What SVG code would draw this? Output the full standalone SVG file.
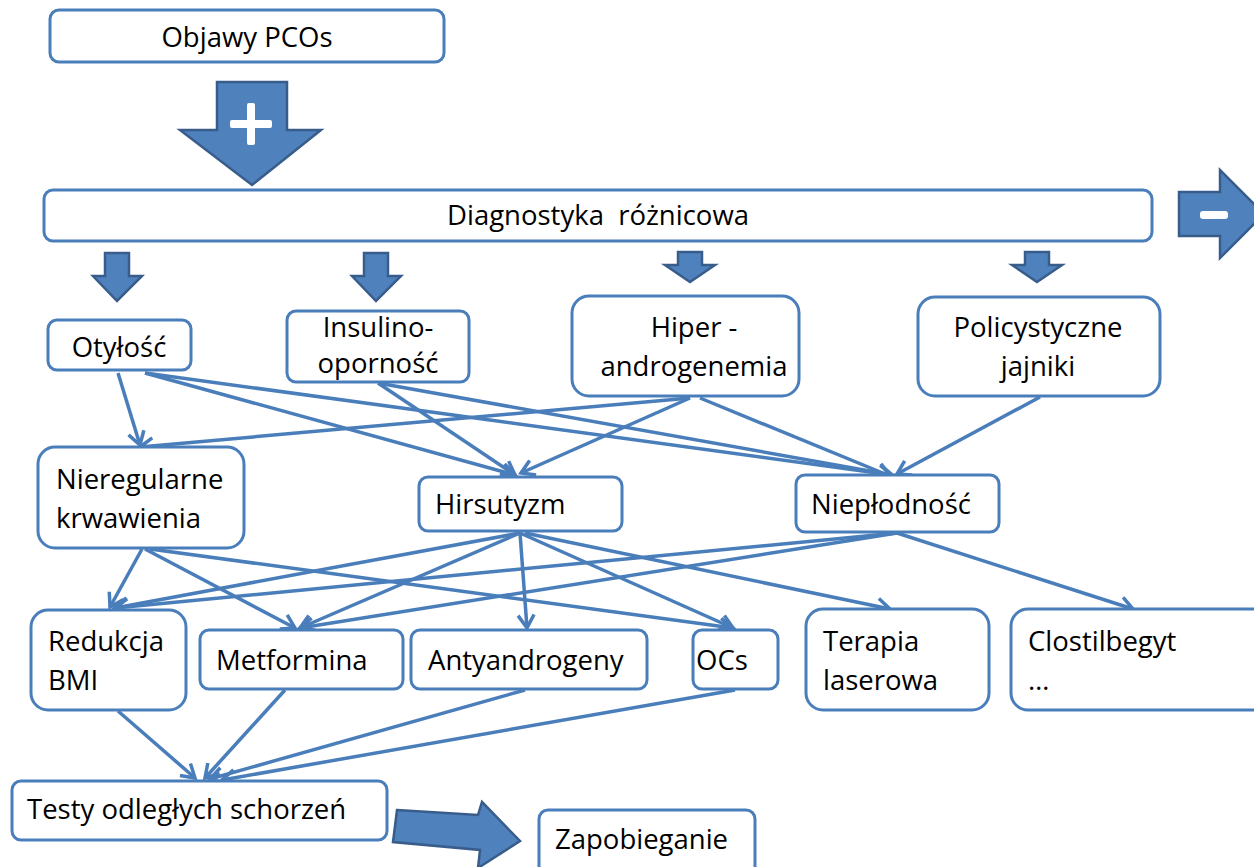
<svg xmlns="http://www.w3.org/2000/svg" width="1254" height="867" viewBox="0 0 1254 867">
  <defs>
    <style>
      .box { fill: #ffffff; stroke: #4a7ebb; stroke-width: 3; }
      .lbl { font-family: "Open Sans", "Liberation Sans", sans-serif; font-size: 27.5px; fill: #000000; }
      .mid { text-anchor: middle; }
      .fat { fill: #4f81bd; stroke: #385d8a; stroke-width: 2.5; stroke-linejoin: miter; }
      .sign { fill: #ffffff; }
      .edge { fill: none; stroke: #4a7ebb; stroke-width: 3.5; marker-end: url(#chev); }
    </style>
    <marker id="chev" markerUnits="userSpaceOnUse" markerWidth="30" markerHeight="30" viewBox="-15 -15 30 30" refX="0" refY="0" orient="auto" overflow="visible">
      <path d="M-13,-8 L0,0 L-13,8" fill="none" stroke="#4a7ebb" stroke-width="3.5" stroke-linejoin="miter"/>
    </marker>
  </defs>

  <rect width="1254" height="867" fill="#ffffff"/>

  <!-- block arrows -->
  <g id="arrow-plus">
    <polygon class="fat" points="217,82 287,82 287,130 321,130 252,185 180,130 217,130"/>
    <rect class="sign" x="247" y="103" width="8" height="42" rx="2"/>
    <rect class="sign" x="230" y="120" width="42" height="8" rx="2"/>
  </g>
  <g id="arrow-minus">
    <polygon class="fat" points="1179,192 1220,192 1220,170 1264,214 1220,258 1220,236 1179,236"/>
    <rect class="sign" x="1200" y="211" width="28" height="8" rx="3"/>
  </g>
  <g id="arrows-down">
    <polygon class="fat" points="105,253 129,253 129,276 142,276 117,301 93,276 105,276"/>
    <polygon class="fat" points="364,253 388,253 388,276 401,276 376,301 352,276 364,276"/>
    <polygon class="fat" points="678,252 702,252 702,265 715,265 690,282 665,265 678,265"/>
    <polygon class="fat" points="1025,252 1049,252 1049,265 1062,265 1037,282 1012,265 1025,265"/>
  </g>
  <g id="arrow-prevent">
    <polygon class="fat" points="397,810 478,815 482,802 520,841 478,868 480,850 393,842"/>
  </g>

  <!-- connectors -->
  <g id="connectors">
    <line class="edge" x1="118" y1="373" x2="140" y2="445"/>
    <line class="edge" x1="145" y1="373" x2="515" y2="475"/>
    <line class="edge" x1="145" y1="373" x2="892" y2="475"/>
    <line class="edge" x1="378" y1="383" x2="515" y2="475"/>
    <line class="edge" x1="378" y1="383" x2="892" y2="475"/>
    <line class="edge" x1="690" y1="398" x2="140" y2="447"/>
    <line class="edge" x1="690" y1="398" x2="521" y2="473"/>
    <line class="edge" x1="700" y1="398" x2="890" y2="476"/>
    <line class="edge" x1="1040" y1="397" x2="897" y2="474"/>

    <line class="edge" x1="142" y1="549" x2="110" y2="607"/>
    <line class="edge" x1="145" y1="549" x2="295" y2="628"/>
    <line class="edge" x1="150" y1="549" x2="733" y2="628"/>
    <line class="edge" x1="897" y1="533" x2="115" y2="608"/>
    <line class="edge" x1="897" y1="533" x2="300" y2="628"/>
    <line class="edge" x1="897" y1="533" x2="1133" y2="609"/>
    <line class="edge" x1="520" y1="533" x2="115" y2="608"/>
    <line class="edge" x1="520" y1="533" x2="300" y2="628"/>
    <line class="edge" x1="520" y1="533" x2="527" y2="628"/>
    <line class="edge" x1="520" y1="533" x2="733" y2="628"/>
    <line class="edge" x1="525" y1="533" x2="890" y2="609"/>

    <line class="edge" x1="118" y1="711" x2="195" y2="778"/>
    <line class="edge" x1="285" y1="690" x2="205" y2="778"/>
    <line class="edge" x1="525" y1="690" x2="210" y2="779"/>
    <line class="edge" x1="735" y1="690" x2="222" y2="780"/>
  </g>

  <!-- nodes -->
  <g id="n-objawy">
    <rect class="box" x="50" y="10" width="394" height="52" rx="9"/>
    <text class="lbl mid" x="247" y="47">Objawy PCOs</text>
  </g>
  <g id="n-diagnostyka">
    <rect class="box" x="44" y="190" width="1108" height="51" rx="9"/>
    <text class="lbl mid" x="598" y="225" xml:space="preserve">Diagnostyka  różnicowa</text>
  </g>
  <g id="n-otylosc">
    <rect class="box" x="48" y="320" width="143" height="50" rx="9"/>
    <text class="lbl mid" x="119" y="357">Otyłość</text>
  </g>
  <g id="n-insulino">
    <rect class="box" x="287" y="311" width="182" height="71" rx="9"/>
    <text class="lbl mid" x="378" y="337">Insulino-</text>
    <text class="lbl mid" x="378" y="373">oporność</text>
  </g>
  <g id="n-hiper">
    <rect class="box" x="572" y="296" width="227" height="100" rx="17"/>
    <text class="lbl mid" x="694" y="337">Hiper -</text>
    <text class="lbl mid" x="694" y="376">androgenemia</text>
  </g>
  <g id="n-policystyczne">
    <rect class="box" x="918" y="297" width="242" height="99" rx="17"/>
    <text class="lbl mid" x="1038" y="337">Policystyczne</text>
    <text class="lbl mid" x="1038" y="376">jajniki</text>
  </g>
  <g id="n-nieregularne">
    <rect class="box" x="38" y="447" width="206" height="101" rx="17"/>
    <text class="lbl" x="56" y="489">Nieregularne</text>
    <text class="lbl" x="56" y="528">krwawienia</text>
  </g>
  <g id="n-hirsutyzm">
    <rect class="box" x="419" y="477" width="203" height="54" rx="9"/>
    <text class="lbl" x="435" y="514">Hirsutyzm</text>
  </g>
  <g id="n-nieplodnosc">
    <rect class="box" x="796" y="475" width="203" height="57" rx="9"/>
    <text class="lbl" x="811" y="514">Niepłodność</text>
  </g>
  <g id="n-redukcja">
    <rect class="box" x="31" y="610" width="155" height="100" rx="17"/>
    <text class="lbl" x="48" y="651">Redukcja</text>
    <text class="lbl" x="48" y="690">BMI</text>
  </g>
  <g id="n-metformina">
    <rect class="box" x="200" y="630" width="203" height="59" rx="9"/>
    <text class="lbl" x="216" y="670">Metformina</text>
  </g>
  <g id="n-antyandrogeny">
    <rect class="box" x="411" y="630" width="236" height="59" rx="9"/>
    <text class="lbl" x="428" y="670">Antyandrogeny</text>
  </g>
  <g id="n-ocs">
    <rect class="box" x="693" y="630" width="85" height="59" rx="9"/>
    <text class="lbl" x="696" y="670">OCs</text>
  </g>
  <g id="n-terapia">
    <rect class="box" x="806" y="609" width="183" height="101" rx="17"/>
    <text class="lbl" x="823" y="651">Terapia</text>
    <text class="lbl" x="823" y="690">laserowa</text>
  </g>
  <g id="n-clostilbegyt">
    <rect class="box" x="1011" y="609" width="270" height="101" rx="17"/>
    <text class="lbl" x="1028" y="651">Clostilbegyt</text>
    <text class="lbl" x="1028" y="690">…</text>
  </g>
  <g id="n-testy">
    <rect class="box" x="12" y="781" width="375" height="59" rx="9"/>
    <text class="lbl" x="27" y="819">Testy odległych schorzeń</text>
  </g>
  <g id="n-zapobieganie">
    <rect class="box" x="539" y="810" width="216" height="70" rx="9"/>
    <text class="lbl" x="555" y="849">Zapobieganie</text>
  </g>
</svg>
